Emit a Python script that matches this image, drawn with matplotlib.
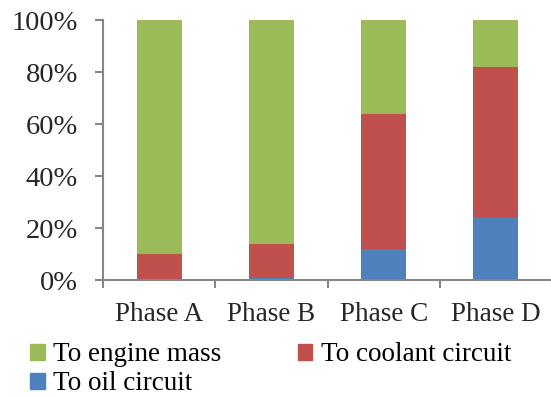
import matplotlib
matplotlib.use("Agg")
import matplotlib.pyplot as plt
from matplotlib.patches import Patch
from matplotlib.ticker import FuncFormatter

categories = ["Phase A", "Phase B", "Phase C", "Phase D"]
oil = [0.4, 0.8, 12.0, 23.8]
coolant = [9.6, 13.2, 52.0, 58.2]
engine = [90.0, 86.0, 36.0, 18.0]

c_engine = "#9BBB59"
c_coolant = "#C0504D"
c_oil = "#4F81BD"
gray = "#868686"

plt.rcParams['font.family'] = ['Liberation Serif', 'DejaVu Serif']

fig = plt.figure(figsize=(5.51, 3.97), dpi=100)
ax = fig.add_axes([103/551, 1-280/397, 449/551, 260/397])

x = list(range(len(categories)))
w = 0.4
ax.bar(x, oil, w, color=c_oil)
ax.bar(x, coolant, w, bottom=oil, color=c_coolant)
bottom2 = [a + b for a, b in zip(oil, coolant)]
ax.bar(x, engine, w, bottom=bottom2, color=c_engine)

ax.set_xlim(-0.5, 3.5)
ax.set_ylim(0, 100)
ax.set_yticks([0, 20, 40, 60, 80, 100])
ax.yaxis.set_major_formatter(FuncFormatter(lambda v, p: f"{int(v)}%"))
ax.set_xticks(x)
ax.set_xticklabels(categories)
ax.set_xticks([-0.5, 0.5, 1.5, 2.5, 3.5], minor=True)
ax.tick_params(axis='x', which='major', length=0, pad=16, labelsize=19.5, colors="#262626")
ax.tick_params(axis='x', which='minor', length=6, width=1.5, color=gray, direction='out')
ax.tick_params(axis='y', length=6, width=1.5, color=gray, labelsize=20.5, labelcolor="#262626", pad=12)

for s in ['top', 'right']:
    ax.spines[s].set_visible(False)
for s in ['left', 'bottom']:
    ax.spines[s].set_color(gray)
    ax.spines[s].set_linewidth(1.5)

handles = [Patch(color=c_engine, label="To engine mass"),
           Patch(color=c_oil, label="To oil circuit"),
           Patch(color=c_coolant, label="To coolant circuit")]
fig.legend(handles=handles, ncol=2, loc='lower left', bbox_to_anchor=(0.011, -0.06),
           frameon=False, fontsize=19.5, handlelength=0.55, handleheight=0.55,
           handletextpad=0.3, columnspacing=2.8, labelspacing=0.15)

fig.savefig("out.png", dpi=100)
